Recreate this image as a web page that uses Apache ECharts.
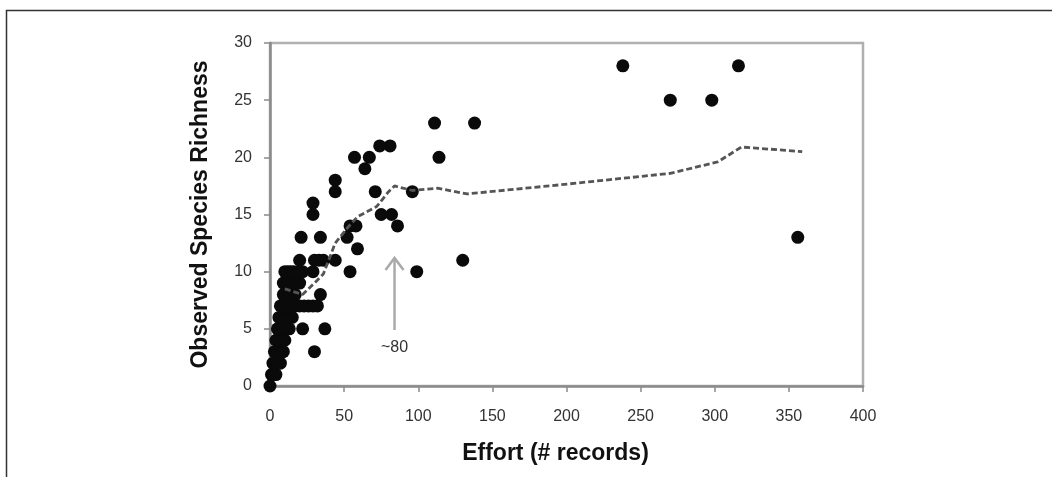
<!DOCTYPE html>
<html>
<head>
<meta charset="utf-8">
<script src="https://cdn.jsdelivr.net/npm/echarts@6/dist/echarts.min.js"></script>
<style>
html,body{margin:0;padding:0;background:#fff;}
#c{width:1052px;height:477px;}
</style>
</head>
<body>
<div id="c"></div>
<script>
// Observed points: effort (# records) and observed species richness
var effort = [0,
  1,2,3,4,
  2,3,5,7,
  3,5,7,9,
  4,6,8,10,
  5,7,9,11,13,22,37,
  6,8,10,12,15,
  7,9,11,14,17,20,23,26,29,32,
  9,11,13,15,17,34,
  9,11,13,15,17,20,
  10,12,14,16,19,22,29,54,99,
  20,30,33,36,44,130,
  30,
  21,34,52,
  59,
  54,58,86,
  75,82,29,29,
  44,71,96,
  44,
  64,
  57,67,114,
  74,81,
  111,138,
  238,316,
  270,298,
  356];
var richness = [0,
  1,1,1,1,
  2,2,2,2,
  3,3,3,3,
  4,4,4,4,
  5,5,5,5,5,5,5,
  6,6,6,6,6,
  7,7,7,7,7,7,7,7,7,7,
  8,8,8,8,8,8,
  9,9,9,9,9,9,
  10,10,10,10,10,10,10,10,10,
  11,11,11,11,11,11,
  3,
  13,13,13,
  12,
  14,14,14,
  15,15,15,16,
  17,17,17,
  18,
  19,
  20,20,20,
  21,21,
  23,23,
  28,28,
  25,25,
  13];

// Dashed curve
var curveEffort   = [10, 22, 30, 36, 44, 52, 59, 72, 80, 84, 96, 113, 133, 196, 270, 302, 318, 359];
var curveRichness = [8.5, 8.0, 9.0, 9.8, 12.5, 13.8, 14.8, 15.7, 17.0, 17.5, 17.1, 17.3, 16.8, 17.6, 18.6, 19.6, 20.9, 20.5];

// Annotation arrow
var arrowEffort = 84;
var arrowFrom = 4.9;
var arrowTo = 11.2;
var arrowLabel = '~80';
var arrowLabelY = 3.4;

var xTicks = [0, 50, 100, 150, 200, 250, 300, 350, 400];
var yTicks = [0, 5, 10, 15, 20, 25, 30];

var pts = effort.map(function (x, i) { return [x, richness[i]]; });
var curve = curveEffort.map(function (x, i) { return [x, curveRichness[i]]; });

var chart = echarts.init(document.getElementById('c'), null, {renderer: 'canvas'});
var font = 'Liberation Sans, Arial, sans-serif';
chart.setOption({
  animation: false,
  backgroundColor: '#fff',
  graphic: [{
    type: 'rect', left: 4, top: 8, silent: true,
    shape: {x: 0, y: 0, width: 1100, height: 600},
    style: {fill: 'none', stroke: '#333', lineWidth: 1.5}
  }],
  grid: {left: 270, right: 189, top: 43, bottom: 91, show: true, borderColor: '#b0b0b0', borderWidth: 2.5},
  xAxis: {
    type: 'value', min: xTicks[0], max: xTicks[xTicks.length - 1], interval: 50,
    name: 'Effort (# records)', nameLocation: 'middle', nameGap: 56,
    nameTextStyle: {fontFamily: font, fontWeight: 'bold', fontSize: 23, color: '#111', padding: [0, 22, 0, 0]},
    axisLine: {show: true, lineStyle: {color: '#8a8a8a', width: 2.5}},
    axisTick: {show: true, length: 6, lineStyle: {color: '#8a8a8a', width: 1.5}},
    axisLabel: {fontFamily: font, fontSize: 16, color: '#333', margin: 23},
    splitLine: {show: false}
  },
  yAxis: {
    type: 'value', min: yTicks[0], max: yTicks[yTicks.length - 1], interval: 5,
    name: 'Observed Species Richness', nameLocation: 'middle', nameGap: 58,
    nameTextStyle: {fontFamily: font, fontWeight: 'bold', fontSize: 23, color: '#111'},
    axisLine: {show: true, lineStyle: {color: '#8a8a8a', width: 2.5}},
    axisTick: {show: true, length: 6, lineStyle: {color: '#8a8a8a', width: 1.5}},
    axisLabel: {fontFamily: font, fontSize: 16, color: '#333', margin: 18},
    splitLine: {show: false}
  },
  series: [{
    type: 'scatter', data: pts, symbol: 'circle', symbolSize: 13,
    itemStyle: {color: '#0a0a0a', opacity: 1}, z: 3
  }, {
    type: 'line', data: curve, showSymbol: false, symbol: 'none',
    lineStyle: {color: '#555', width: 2.8, type: [6, 3]}, z: 4
  }, {
    type: 'custom', data: [[arrowEffort, arrowFrom, arrowTo, arrowLabelY]], z: 5,
    renderItem: function (params, api) {
      var p0 = api.coord([api.value(0), api.value(1)]);
      var p1 = api.coord([api.value(0), api.value(2)]);
      var pl = api.coord([api.value(0), api.value(3)]);
      var st = {stroke: '#aaa', lineWidth: 2.5, fill: 'none'};
      return {type: 'group', children: [
        {type: 'line', shape: {x1: p0[0], y1: p0[1], x2: p1[0], y2: p1[1]}, style: st},
        {type: 'polyline', shape: {points: [[p1[0] - 9, p1[1] + 12], [p1[0], p1[1]], [p1[0] + 9, p1[1] + 12]]}, style: st},
        {type: 'text', style: {text: arrowLabel, x: pl[0], y: pl[1], align: 'center', verticalAlign: 'middle',
          font: '16px Liberation Sans, Arial, sans-serif', fill: '#333'}}
      ]};
    }
  }]
});
</script>
</body>
</html>
